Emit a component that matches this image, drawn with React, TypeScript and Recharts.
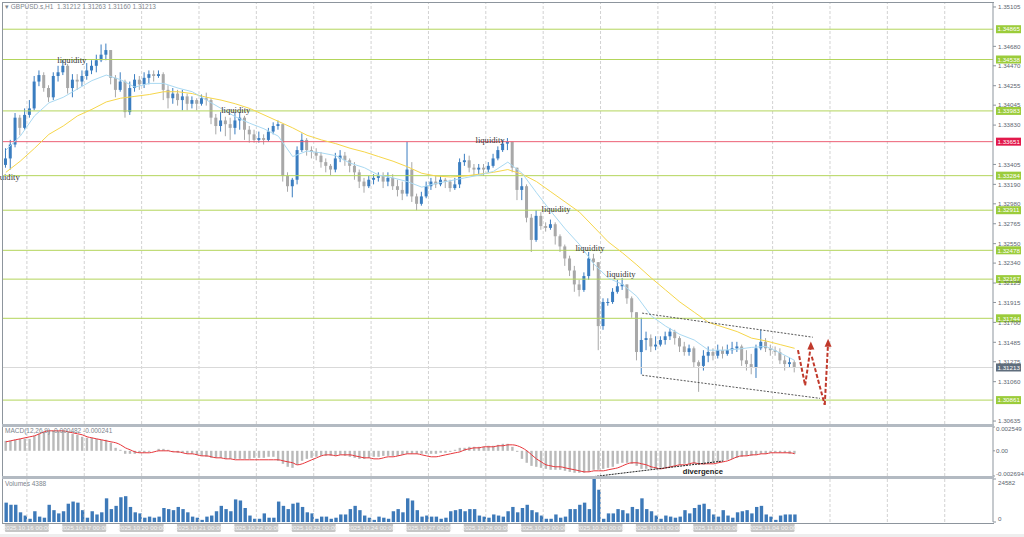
import React from "react";
import { ComposedChart, Bar, Line, XAxis, YAxis, ReferenceLine, ReferenceDot } from "recharts";

const FONT = '"Liberation Sans", Arial, sans-serif';
const SERIF = '"Liberation Serif", "Times New Roman", serif';

// ---- captions ----
const title = "GBPUSD.s,H1";
const titleQuote = [1.31212, 1.31263, 1.3116, 1.31213];
const macdCaption = "MACD(12,26,9) -0.000482 -0.000241";
const volumeCaption = "Volumes 4388";

// one label per trading day, 12 two-hour bars per day
const dayLabels = [
  "2025.10.16 00:00", "2025.10.17 00:00", "2025.10.20 00:00", "2025.10.21 00:00",
  "2025.10.22 00:00", "2025.10.23 00:00", "2025.10.24 00:00", "2025.10.27 00:00",
  "2025.10.28 00:00", "2025.10.29 00:00", "2025.10.30 00:00", "2025.10.31 00:00",
  "2025.11.03 00:00", "2025.11.04 00:00",
];

// ---- price bars (2h), open = previous close ----
const firstOpen = 1.334;
const closes = [
  1.3347, 1.3362, 1.3391, 1.338, 1.3394, 1.3401, 1.343, 1.3437, 1.3423, 1.3413, 1.3436, 1.344,
  1.3447, 1.3423, 1.3432, 1.343, 1.3436, 1.3442, 1.3447, 1.3453, 1.3459, 1.3464, 1.3434, 1.3421,
  1.343, 1.3397, 1.3423, 1.3432, 1.3427, 1.3434, 1.3438, 1.3436, 1.3438, 1.3421, 1.3412, 1.3417,
  1.341, 1.3414, 1.3406, 1.341, 1.3406, 1.3412, 1.341, 1.3391, 1.3382, 1.3388, 1.3384, 1.338,
  1.3388, 1.3391, 1.3378, 1.3373, 1.3367, 1.3369, 1.3367, 1.3376, 1.3382, 1.3384, 1.3328, 1.3317,
  1.3324, 1.3356, 1.3367, 1.3356, 1.3354, 1.335, 1.3343, 1.3339, 1.3335, 1.3347, 1.335, 1.3345,
  1.3339, 1.3332, 1.3322, 1.3317, 1.3324, 1.3326, 1.3328, 1.3322, 1.3326, 1.3317, 1.3313, 1.3309,
  1.3335, 1.3306, 1.3298, 1.3306, 1.3317, 1.3322, 1.3319, 1.3324, 1.3322, 1.3315, 1.3319, 1.3343,
  1.3345, 1.3337, 1.3335, 1.3337, 1.3335, 1.3339, 1.3347, 1.3356, 1.3363, 1.3365, 1.3337, 1.3313,
  1.3317, 1.3283, 1.3259, 1.3285, 1.3274, 1.3272, 1.3276, 1.3263, 1.3252, 1.3239, 1.3226, 1.3211,
  1.3205, 1.322, 1.3239, 1.3235, 1.3166, 1.3192, 1.3192, 1.3203, 1.3209, 1.3211, 1.3196, 1.3181,
  1.3138, 1.3151, 1.3153, 1.3144, 1.3146, 1.3151, 1.3155, 1.316, 1.3153, 1.3144, 1.3138, 1.3142,
  1.3127, 1.3123, 1.3134, 1.3138, 1.3134, 1.314, 1.3136, 1.314, 1.3142, 1.3144, 1.3129, 1.3125,
  1.3121, 1.3142, 1.3149, 1.3142, 1.314, 1.3138, 1.3129, 1.3125, 1.3127, 1.3121,
];
const highs = [
  1.3358, 1.3367, 1.3396, 1.3394, 1.3401, 1.341, 1.3436, 1.3442, 1.344, 1.3426, 1.344, 1.3447,
  1.3453, 1.3449, 1.3438, 1.3438, 1.3442, 1.345, 1.3453, 1.3459, 1.347, 1.3471, 1.3464, 1.3437,
  1.344, 1.3432, 1.343, 1.3438, 1.3436, 1.344, 1.3442, 1.3442, 1.3442, 1.344, 1.3426, 1.3423,
  1.3421, 1.3421, 1.3417, 1.3414, 1.3412, 1.3416, 1.3418, 1.3412, 1.3395, 1.3397, 1.3392, 1.3391,
  1.3397, 1.3397, 1.3393, 1.3382, 1.3378, 1.3376, 1.3373, 1.338, 1.3386, 1.3388, 1.3384, 1.3332,
  1.3326, 1.336, 1.3374, 1.3369, 1.336, 1.3358, 1.3354, 1.3347, 1.3341, 1.3353, 1.3356, 1.3354,
  1.3347, 1.3343, 1.3335, 1.3326, 1.3328, 1.333, 1.3332, 1.3332, 1.3332, 1.333, 1.3324, 1.3322,
  1.3365, 1.3343, 1.3309, 1.3311, 1.3322, 1.3326, 1.3328, 1.3328, 1.3326, 1.3324, 1.3326, 1.3347,
  1.3352, 1.335, 1.3341, 1.3341, 1.3341, 1.3343, 1.3352, 1.336, 1.3367, 1.3369, 1.3363, 1.3337,
  1.3326, 1.3319, 1.3287, 1.3291, 1.3289, 1.3278, 1.3281, 1.3278, 1.3265, 1.3254, 1.3242, 1.3231,
  1.3216, 1.3224, 1.3246, 1.3244, 1.3235, 1.3196, 1.3196, 1.3207, 1.3216, 1.3218, 1.3211, 1.3198,
  1.3179, 1.3175, 1.316, 1.3157, 1.3155, 1.3155, 1.316, 1.3164, 1.3162, 1.3155, 1.3149, 1.3146,
  1.3144, 1.3129, 1.314, 1.3144, 1.3142, 1.3146, 1.3144, 1.3146, 1.3149, 1.3149, 1.3146, 1.314,
  1.3136, 1.3146, 1.3162, 1.3153, 1.3146, 1.3144, 1.3142, 1.3134, 1.3132, 1.3129,
];
const lows = [
  1.3337, 1.3335, 1.3359, 1.3372, 1.3378, 1.3391, 1.3399, 1.3425, 1.3419, 1.3408, 1.341, 1.343,
  1.3437, 1.3417, 1.3413, 1.3421, 1.3425, 1.3432, 1.3438, 1.344, 1.3451, 1.3453, 1.3427, 1.3413,
  1.3419, 1.3391, 1.3394, 1.3419, 1.3421, 1.3423, 1.3427, 1.343, 1.3434, 1.341, 1.3401, 1.3406,
  1.3404, 1.3399, 1.3399, 1.3401, 1.3399, 1.3404, 1.3404, 1.3384, 1.3373, 1.3376, 1.3371, 1.3367,
  1.3373, 1.3378, 1.3367, 1.3364, 1.3364, 1.3364, 1.3362, 1.3365, 1.3373, 1.3378, 1.3322, 1.3311,
  1.3305, 1.3319, 1.3354, 1.335, 1.3347, 1.3345, 1.3337, 1.3332, 1.3329, 1.3332, 1.3343, 1.3339,
  1.3332, 1.3324, 1.3315, 1.331, 1.3315, 1.3319, 1.3322, 1.3315, 1.3317, 1.3313, 1.3306, 1.3302,
  1.3306, 1.33, 1.3291, 1.3296, 1.3304, 1.3313, 1.3315, 1.3317, 1.3315, 1.3311, 1.3313, 1.3315,
  1.3339, 1.3332, 1.3328, 1.333, 1.3328, 1.3332, 1.3337, 1.3345, 1.3354, 1.3356, 1.3332, 1.3302,
  1.3302, 1.3278, 1.3246, 1.3257, 1.327, 1.3268, 1.327, 1.3254, 1.3246, 1.3231, 1.322, 1.3203,
  1.3198, 1.3203, 1.3216, 1.3226, 1.314, 1.3162, 1.3188, 1.319, 1.3201, 1.3205, 1.319, 1.3175,
  1.3129, 1.3114, 1.314, 1.3138, 1.314, 1.3144, 1.3146, 1.3151, 1.3146, 1.3138, 1.3134, 1.3134,
  1.3121, 1.3095, 1.3118, 1.3127, 1.3129, 1.3131, 1.3131, 1.3134, 1.3136, 1.3138, 1.3123, 1.3118,
  1.3114, 1.311, 1.314, 1.3138, 1.3134, 1.3134, 1.3125, 1.3118, 1.3121, 1.3116,
];
const volumes = [
  11070, 9840, 9840, 5540, 3690, 1850, 6150, 3080, 2460, 9840, 6770, 4920,
  6150, 10460, 11690, 11070, 6770, 2460, 6150, 4310, 5540, 13530, 7380, 9230,
  14150, 14760, 8610, 5540, 4920, 2460, 3080, 2460, 3080, 8000, 7380, 6770,
  8610, 7380, 5540, 3080, 2460, 1230, 3080, 3690, 6150, 9230, 7380, 6150,
  12920, 12300, 8000, 3690, 1850, 1850, 4920, 2460, 2460, 11690, 9230, 7380,
  10460, 11070, 8610, 5540, 4920, 1850, 3080, 3080, 1850, 2460, 4310, 4310,
  7380, 9230, 6770, 3690, 2460, 1230, 3080, 2460, 1850, 6150, 7380, 5540,
  13530, 12300, 6770, 3080, 3690, 3080, 3080, 1850, 2460, 6150, 6770, 7380,
  6150, 7380, 7380, 3690, 3080, 2460, 4310, 3690, 3080, 6150, 8610, 5540,
  8000, 9840, 6770, 5540, 3690, 1850, 1850, 4310, 2460, 3080, 7380, 7380,
  9840, 11070, 7380, 24580, 18450, 1850, 4920, 4920, 7380, 6770, 4920, 8610,
  7380, 13530, 7380, 6150, 3690, 1850, 3690, 3080, 2460, 3080, 6770, 4920,
  8000, 9840, 10460, 7380, 4310, 3080, 6770, 3690, 2460, 5540, 6150, 6770,
  4920, 8610, 9230, 4310, 3080, 1230, 3690, 4310, 4310, 4310,
];
const macdHist = [
  0.00107, 0.00107, 0.00118, 0.00128, 0.00128, 0.00128, 0.00161, 0.00182, 0.00203, 0.00214, 0.00214, 0.00214,
  0.00214, 0.00193, 0.00182, 0.00171, 0.0015, 0.00139, 0.00139, 0.00128, 0.00118, 0.00118, 0.00086, 0.00032,
  0.00011, -0.00032, -0.00032, -0.00032, -0.00021, -0.00021, -0.00011, 0, 0.00021, 0.00021, 0.00011, -0.00011,
  -0.00021, -0.00021, -0.00032, -0.00032, -0.00043, -0.00054, -0.00064, -0.00075, -0.00075, -0.00075, -0.00086, -0.00086,
  -0.00086, -0.00086, -0.00086, -0.00086, -0.00075, -0.00075, -0.00075, -0.00064, -0.00064, -0.00107, -0.00139, -0.00171,
  -0.00182, -0.0015, -0.00107, -0.00086, -0.00075, -0.00064, -0.00054, -0.00054, -0.00054, -0.00054, -0.00043, -0.00054,
  -0.00064, -0.00075, -0.00086, -0.00086, -0.00075, -0.00064, -0.00064, -0.00054, -0.00054, -0.00054, -0.00054, -0.00043,
  -0.00032, -0.00032, -0.00032, -0.00032, -0.00032, -0.00032, -0.00032, -0.00021, -0.00021, -0.00011, 0.00011, 0.00032,
  0.00032, 0.00043, 0.00043, 0.00043, 0.00043, 0.00054, 0.00054, 0.00064, 0.00075, 0.00075, 0.00043, -0.00011,
  -0.00086, -0.00128, -0.00161, -0.00171, -0.00182, -0.00193, -0.00203, -0.00203, -0.00203, -0.00214, -0.00225, -0.00235,
  -0.00235, -0.00235, -0.00225, -0.00203, -0.00203, -0.00193, -0.00182, -0.00171, -0.00139, -0.00128, -0.00128, -0.00139,
  -0.00161, -0.00193, -0.00193, -0.00193, -0.00193, -0.00182, -0.00182, -0.00171, -0.00161, -0.0015, -0.00139, -0.00139,
  -0.00139, -0.0015, -0.0015, -0.00139, -0.00128, -0.00118, -0.00107, -0.00096, -0.00086, -0.00075, -0.00064, -0.00054,
  -0.00054, -0.00043, -0.00032, -0.00032, -0.00021, -0.00021, -0.00021, -0.00021, -0.00032, -0.00032,
];
const macdSignal = [
  0.00096, 0.00107, 0.00118, 0.00128, 0.00139, 0.0015, 0.00161, 0.00182, 0.00203, 0.00214, 0.00214, 0.00214,
  0.00214, 0.00203, 0.00193, 0.00182, 0.00171, 0.0015, 0.00139, 0.00128, 0.00118, 0.00107, 0.00096, 0.00086,
  0.00064, 0.00032, 0.00011, -0.00011, -0.00021, -0.00021, -0.00021, -0.00011, 0, 0, 0, -0.00011,
  -0.00011, -0.00021, -0.00032, -0.00032, -0.00043, -0.00054, -0.00054, -0.00064, -0.00075, -0.00075, -0.00086, -0.00086,
  -0.00096, -0.00096, -0.00096, -0.00096, -0.00096, -0.00096, -0.00096, -0.00096, -0.00096, -0.00096, -0.00107, -0.00118,
  -0.00128, -0.0015, -0.00139, -0.00118, -0.00096, -0.00075, -0.00054, -0.00043, -0.00043, -0.00054, -0.00043, -0.00043,
  -0.00043, -0.00054, -0.00064, -0.00075, -0.00075, -0.00086, -0.00086, -0.00075, -0.00064, -0.00064, -0.00054, -0.00043,
  -0.00032, -0.00032, -0.00032, -0.00043, -0.00054, -0.00064, -0.00064, -0.00054, -0.00043, -0.00032, -0.00021, -0.00011,
  0.00011, 0.00021, 0.00032, 0.00032, 0.00043, 0.00043, 0.00043, 0.00054, 0.00054, 0.00064, 0.00064, 0.00054,
  0.00032, 0, -0.00043, -0.00086, -0.00118, -0.0015, -0.00161, -0.00171, -0.00171, -0.00182, -0.00193, -0.00203,
  -0.00214, -0.00225, -0.00225, -0.00214, -0.00214, -0.00214, -0.00203, -0.00193, -0.00182, -0.00161, -0.00139, -0.00128,
  -0.00128, -0.00139, -0.0015, -0.00171, -0.00182, -0.00193, -0.00182, -0.00171, -0.00161, -0.0015, -0.0015, -0.00139,
  -0.00128, -0.00139, -0.00139, -0.00139, -0.00139, -0.00128, -0.00118, -0.00107, -0.00086, -0.00064, -0.00054, -0.00054,
  -0.00043, -0.00043, -0.00032, -0.00032, -0.00021, -0.00021, -0.00021, -0.00021, -0.00021, -0.00032,
];

// moving averages, read every 3rd bar
const fastMa = [
  1.3356, 1.3371, 1.3393, 1.3407, 1.3413, 1.3422, 1.3431, 1.3437, 1.3432, 1.3424,
  1.3428, 1.3428, 1.3423, 1.3419, 1.341, 1.3401, 1.3392, 1.3385, 1.3379, 1.3371,
  1.3349, 1.3355, 1.3353, 1.335, 1.3342, 1.3337, 1.3329, 1.3326, 1.3322, 1.3316,
  1.332, 1.3323, 1.3326, 1.3329, 1.3333, 1.3343, 1.3331, 1.331, 1.329, 1.3271,
  1.3254, 1.3233, 1.3218, 1.3211, 1.3198, 1.3177, 1.3166, 1.3157, 1.3151, 1.314,
  1.314, 1.3141, 1.3143, 1.3144, 1.3137, 1.3129,
];
const slowMa = [
  1.3332, 1.3344, 1.3358, 1.3373, 1.3382, 1.3393, 1.34, 1.3408, 1.3412, 1.3414,
  1.3416, 1.3419, 1.3419, 1.3417, 1.3413, 1.341, 1.3406, 1.3401, 1.3394, 1.3387,
  1.338, 1.3372, 1.3367, 1.3363, 1.3358, 1.3354, 1.3349, 1.3344, 1.3338, 1.3331,
  1.3328, 1.3327, 1.3328, 1.333, 1.3332, 1.3335, 1.333, 1.3322, 1.3311, 1.33,
  1.3289, 1.3273, 1.3257, 1.3245, 1.3232, 1.3218, 1.3205, 1.3192, 1.3181, 1.317,
  1.3165, 1.316, 1.3153, 1.315, 1.3146, 1.3142,
];

// horizontal levels
const levels = [1.34865, 1.34538, 1.33983, 1.33651, 1.33284, 1.32911, 1.32478, 1.32167, 1.31744, 1.30861];
const redLevel = 1.33651;
const lastPrice = 1.31213;

const priceTicks = [
  1.35105, 1.3468, 1.3447, 1.34255, 1.34045, 1.3383, 1.33405, 1.3319, 1.3298, 1.32765,
  1.3255, 1.3234, 1.32125, 1.31915, 1.317, 1.31485, 1.31275, 1.3106, 1.30635,
];
const macdTicks = [0.002549, 0, -0.002694];
const volumeTicks = [24582, 0];

// annotations: [bar index, price]
const liquidityNotes = [
  [2.9, 1.3327], [13.8, 1.3453], [48.1, 1.3399], [101.3, 1.3367],
  [115.1, 1.3292], [122.2, 1.325], [128.7, 1.3222],
];
const channelUpper = [[133.1, 1.318], [168.8, 1.3154]];
const channelLower = [[133.1, 1.3113], [170.3, 1.3088]];
const arrowA = [[165.7, 1.314], [167.2, 1.3102], [168.4, 1.3145]];
const arrowB = [[168.6, 1.3133], [171.3, 1.3081], [172.0, 1.3148]];
const divergenceLine = [[120.5, -0.00291], [150.0, -0.00109]];
const divergenceNote = [145.8, -0.00216];

// ---- layout / style ----
const X_DOMAIN: [number, number] = [-0.6, 206.5];
const PRICE_DOMAIN: [number, number] = [1.30603, 1.35148];
const MACD_DOMAIN: [number, number] = [-0.002694, 0.002549];
const VOL_DOMAIN: [number, number] = [0, 24582];
const BARS_PER_DAY = 12;
const MA_STEP = 3;
const GRID_OFFSET = 4.4;
const BULL = "#3a7dc0";
const BEAR = "#a8a8a8";
const LEVEL_GREEN = "#b3d55b";
const TAG_GREEN = "#9bcc3a";
const LEVEL_RED = "#ec5f75";
const TAG_RED = "#e2194b";
const ARROW_RED = "#c0392b";
const AXIS = "#8d959d";
const TICK_FONT = 6.2;

const rows = closes.map((close, i) => {
  const open = i === 0 ? firstOpen : closes[i - 1];
  return {
    i,
    open,
    close,
    high: Math.max(highs[i], open, close),
    low: Math.min(lows[i], open, close),
    vol: volumes[i],
    hist: macdHist[i],
    signal: macdSignal[i],
  };
});
const fastRows = fastMa.map((v, k) => ({ i: k * MA_STEP, v }));
const slowRows = slowMa.map((v, k) => ({ i: k * MA_STEP, v }));
const gridIdx: number[] = [];
for (let g = GRID_OFFSET; g < X_DOMAIN[1]; g += BARS_PER_DAY) gridIdx.push(g);
const dayIdx = dayLabels.map((_, k) => k * BARS_PER_DAY);

const Candle = (props: any) => {
  const { x, y, width, height, payload } = props;
  if (!payload) return null;
  const { open, close, high, low } = payload;
  const top = Math.min(y, y + height);
  const h = Math.abs(height);
  const k = high > low ? h / (high - low) : 0;
  const bodyTop = top + (high - Math.max(open, close)) * k;
  const bodyBottom = top + (high - Math.min(open, close)) * k;
  const color = close >= open ? BULL : BEAR;
  const cx = x + width / 2;
  return (
    <g>
      <line x1={cx} x2={cx} y1={top} y2={top + h} stroke={color} strokeWidth={1} />
      <rect x={cx - 1.5} y={bodyTop} width={3} height={Math.max(1, bodyBottom - bodyTop)} fill={color} />
    </g>
  );
};

const LevelTag = ({ viewBox, value, fill }: any) => {
  if (!viewBox) return null;
  const x = viewBox.x + viewBox.width + 3;
  const y = viewBox.y;
  return (
    <g>
      <rect x={x} y={y - 4} width={25} height={8} fill={fill} />
      <text x={x + 1.5} y={y} dy="0.355em" fontSize={TICK_FONT} fill="#fff" fontFamily={FONT}>
        {value.toFixed(5)}
      </text>
    </g>
  );
};

const EdgeTick = ({ x, y, payload, top, bottom, fmt, dTop, dBottom }: any) => {
  const v = payload.value;
  const dy = v === top ? dTop : v === bottom ? dBottom : 0;
  return (
    <text x={x} y={y + dy} dy="0.355em" fontSize={TICK_FONT} fill="#5c6670" fontFamily={FONT}>
      {fmt(v)}
    </text>
  );
};

const DateTick = ({ x, y, payload }: any) => {
  const label = dayLabels[Math.round(payload.value / BARS_PER_DAY)];
  return (
    <g>
      <rect x={x - 1} y={y + 1} width={44} height={9} rx={1.5} fill="#c6c6c6" />
      <text x={x + 21} y={y + 8} textAnchor="middle" fontSize={TICK_FONT} fill="#f6f6f6" fontFamily={FONT}>
        {label}
      </text>
    </g>
  );
};

const UpArrowHead = (p: any) => (
  <path d={`M${p.cx},${p.cy - 4} L${p.cx - 3.5},${p.cy + 4} L${p.cx + 3.5},${p.cy + 4} Z`} fill={ARROW_RED} />
);

const gridLines = gridIdx.map((g) => (
  <ReferenceLine key={`g${g}`} x={g} stroke="#d2d2d2" strokeDasharray="3 2" />
));

function MainPanel() {
  return (
    <ComposedChart width={1024} height={425} data={rows} margin={{ top: 3, right: 0, bottom: 1, left: 3 }}>
      <XAxis type="number" dataKey="i" domain={X_DOMAIN} allowDataOverflow hide />
      <YAxis
        orientation="right"
        type="number"
        width={31}
        domain={PRICE_DOMAIN}
        allowDataOverflow
        ticks={priceTicks}
        interval={0}
        tickSize={3}
        tickLine={{ stroke: AXIS }}
        axisLine={{ stroke: AXIS }}
        tick={{ fontSize: TICK_FONT, fill: "#5c6670", fontFamily: FONT }}
        tickFormatter={(v: number) => v.toFixed(5)}
      />
      {gridLines}
      <ReferenceLine y={lastPrice} stroke="#d9d9d9" label={(p: any) => <LevelTag viewBox={p.viewBox} value={lastPrice} fill="#5f6d7c" />} />
      {levels.map((lv) => (
        <ReferenceLine
          key={lv}
          y={lv}
          stroke={lv === redLevel ? LEVEL_RED : LEVEL_GREEN}
          strokeWidth={1}
          label={(p: any) => <LevelTag viewBox={p.viewBox} value={lv} fill={lv === redLevel ? TAG_RED : TAG_GREEN} />}
        />
      ))}
      <Line data={slowRows} dataKey="v" type="linear" dot={false} stroke="#f6d64a" strokeWidth={1} isAnimationActive={false} />
      <Line data={fastRows} dataKey="v" type="linear" dot={false} stroke="#a9d9f2" strokeWidth={1} isAnimationActive={false} />
      <Bar dataKey={(d: any) => [d.low, d.high]} barSize={4} shape={(p: any) => <Candle {...p} />} isAnimationActive={false} />
      {[channelUpper, channelLower].map((seg, k) => (
        <ReferenceLine
          key={`ch${k}`}
          segment={seg.map(([x, y]) => ({ x, y }))}
          stroke="#444"
          strokeDasharray="2 1.5"
          strokeWidth={0.9}
          ifOverflow="visible"
        />
      ))}
      {[arrowA, arrowB].map((path, k) =>
        path.slice(1).map(([x, y], j) => (
          <ReferenceLine
            key={`ar${k}-${j}`}
            segment={[{ x: path[j][0], y: path[j][1] }, { x, y }]}
            stroke={ARROW_RED}
            strokeDasharray="4 2"
            strokeWidth={2}
            ifOverflow="visible"
          />
        ))
      )}
      {[arrowA, arrowB].map((path, k) => (
        <ReferenceDot key={`ah${k}`} x={path[path.length - 1][0]} y={path[path.length - 1][1]} r={0} shape={UpArrowHead} />
      ))}
      {liquidityNotes.map(([x, y], k) => (
        <ReferenceDot
          key={`lq${k}`}
          x={x}
          y={y}
          r={0}
          ifOverflow="visible"
          shape={(p: any) => (
            <text
              x={p.cx}
              y={p.cy}
              dy="0.35em"
              textAnchor={k === 0 ? "end" : "middle"}
              fontSize={8.6}
              fill="#333"
              fontFamily={SERIF}
            >
              liquidity
            </text>
          )}
        />
      ))}
    </ComposedChart>
  );
}

function MacdPanel() {
  return (
    <ComposedChart width={1024} height={54} data={rows} margin={{ top: 3, right: 0, bottom: 2, left: 3 }}>
      <XAxis type="number" dataKey="i" domain={X_DOMAIN} allowDataOverflow hide />
      <YAxis
        orientation="right"
        type="number"
        width={31}
        domain={MACD_DOMAIN}
        allowDataOverflow
        ticks={macdTicks}
        interval={0}
        tickSize={2}
        tickMargin={1}
        tickLine={{ stroke: AXIS }}
        axisLine={{ stroke: AXIS }}
        tick={(p: any) => (
          <EdgeTick {...p} top={MACD_DOMAIN[1]} bottom={MACD_DOMAIN[0]} dTop={1.5} dBottom={-2}
            fmt={(v: number) => (v === 0 ? "0.00" : v.toFixed(6))} />
        )}
      />
      {gridLines}
      <Bar dataKey="hist" fill="#bababa" barSize={2.4} isAnimationActive={false} />
      <Line dataKey="signal" type="monotone" dot={false} stroke="#e8363b" strokeWidth={1} isAnimationActive={false} />
      <ReferenceLine
        segment={divergenceLine.map(([x, y]) => ({ x, y }))}
        stroke="#222"
        strokeDasharray="2 1"
        strokeWidth={1}
        ifOverflow="visible"
      />
      <ReferenceDot
        x={divergenceNote[0]}
        y={divergenceNote[1]}
        r={0}
        shape={(p: any) => (
          <text x={p.cx} y={p.cy} dy="0.35em" textAnchor="middle" fontSize={7.6} fontWeight="bold" fill="#222" fontFamily={FONT}>
            divergence
          </text>
        )}
      />
    </ComposedChart>
  );
}

function VolumePanel() {
  return (
    <ComposedChart width={1024} height={57} data={rows} margin={{ top: 2, right: 0, bottom: 0, left: 3 }}>
      <XAxis
        type="number"
        dataKey="i"
        domain={X_DOMAIN}
        allowDataOverflow
        ticks={dayIdx}
        interval={0}
        height={12}
        tickSize={0}
        tickMargin={0}
        tickLine={false}
        axisLine={false}
        tick={(p: any) => <DateTick {...p} />}
      />
      <YAxis
        orientation="right"
        type="number"
        width={31}
        domain={VOL_DOMAIN}
        allowDataOverflow
        ticks={volumeTicks}
        interval={0}
        tickSize={3}
        tickLine={{ stroke: AXIS }}
        axisLine={{ stroke: AXIS }}
        tick={(p: any) => (
          <EdgeTick {...p} top={VOL_DOMAIN[1]} bottom={VOL_DOMAIN[0]} dTop={4} dBottom={-3} fmt={(v: number) => String(v)} />
        )}
      />
      {gridLines}
      <Bar dataKey="vol" fill="#3d79b8" barSize={3.4} isAnimationActive={false} />
    </ComposedChart>
  );
}

const caption: React.CSSProperties = {
  position: "absolute",
  fontSize: 6.5,
  color: "#7d858d",
  whiteSpace: "pre",
  fontFamily: FONT,
  lineHeight: 1,
};

export default function App() {
  return (
    <div style={{ position: "fixed", left: 0, top: 0, width: 1024, height: 537, background: "#fff", overflow: "hidden", fontFamily: FONT }}>
      <div style={{ position: "absolute", left: 0, top: 0 }}>
        <MainPanel />
      </div>
      <div style={{ position: "absolute", left: 0, top: 424 }}>
        <MacdPanel />
      </div>
      <div style={{ position: "absolute", left: 0, top: 477 }}>
        <VolumePanel />
      </div>
      {/* frame and panel separators */}
      <div style={{ position: "absolute", left: 2, top: 2, width: 991, height: 520, borderLeft: `1px solid ${AXIS}`, borderTop: `1px solid ${AXIS}`, borderBottom: `1px solid ${AXIS}` }} />
      <div style={{ position: "absolute", left: 2, top: 424, width: 992, height: 3, background: "#b3bac2" }} />
      <div style={{ position: "absolute", left: 2, top: 476, width: 992, height: 3, background: "#b3bac2" }} />
      <div style={{ position: "absolute", left: 0, top: 534, width: 1024, height: 3, background: "#eeeeee" }} />
      <div style={{ ...caption, left: 5, top: 4 }}>
        {"\u25BE " + title + "  " + titleQuote.map((v) => v.toFixed(5)).join(" ")}
      </div>
      <div style={{ ...caption, left: 5, top: 428 }}>{macdCaption}</div>
      <div style={{ ...caption, left: 5, top: 481 }}>{volumeCaption}</div>
    </div>
  );
}
